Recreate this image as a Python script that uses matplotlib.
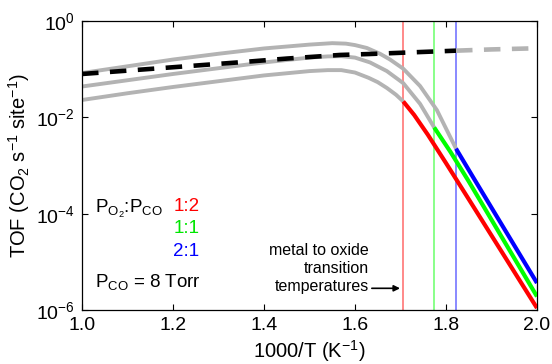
import matplotlib.pyplot as plt
import numpy as np

plt.rcParams['font.family'] = ['Liberation Sans', 'DejaVu Sans']
plt.rcParams['mathtext.fontset'] = 'custom'
plt.rcParams['mathtext.rm'] = 'Liberation Sans'
plt.rcParams['mathtext.it'] = 'Liberation Sans:italic'
plt.rcParams['mathtext.default'] = 'regular'

# x = 1000/T, values are log10(TOF)
# metal branch (grey) for each P_O2:P_CO ratio
x_grey_12 = [1.0, 1.1, 1.2, 1.3, 1.4, 1.5, 1.54, 1.57, 1.60, 1.63, 1.65, 1.67, 1.69, 1.706]
y_grey_12 = [-1.64, -1.50, -1.37, -1.25, -1.13, -1.04, -1.02, -1.02, -1.07, -1.18, -1.27, -1.39, -1.53, -1.67]
x_grey_11 = [1.0, 1.1, 1.2, 1.3, 1.4, 1.5, 1.54, 1.57, 1.60, 1.633, 1.67, 1.706, 1.743, 1.774]
y_grey_11 = [-1.36, -1.23, -1.10, -0.98, -0.86, -0.76, -0.735, -0.73, -0.76, -0.86, -1.04, -1.29, -1.72, -2.21]
x_grey_21 = [1.0, 1.1, 1.2, 1.3, 1.4, 1.45, 1.5, 1.55, 1.58, 1.60, 1.626, 1.655, 1.677, 1.706, 1.743, 1.78, 1.822]
y_grey_21 = [-1.08, -0.94, -0.80, -0.68, -0.57, -0.53, -0.49, -0.46, -0.47, -0.50, -0.56, -0.68, -0.80, -0.99, -1.35, -1.85, -2.65]

# oxide branch (coloured)
x_red = [1.706, 1.73, 1.76, 1.80, 1.85, 2.0]
y_red = [-1.67, -1.95, -2.36, -2.95, -3.70, -5.96]
x_green = [1.774, 1.81, 1.85, 2.0]
y_green = [-2.21, -2.72, -3.33, -5.72]
x_blue = [1.822, 1.86, 2.0]
y_blue = [-2.65, -3.25, -5.44]

# dashed reference line
x_dash = [1.0, 1.1, 1.2, 1.347, 1.45, 1.567, 1.633, 1.70, 1.822]
y_dash = [-1.10, -1.03, -0.96, -0.857, -0.78, -0.705, -0.685, -0.66, -0.616]
x_dash_grey = [1.822, 1.90, 2.0]
y_dash_grey = [-0.616, -0.59, -0.566]

# metal to oxide transition temperatures
x_trans = [1.706, 1.774, 1.822]
trans_colors = ['#ff8080', '#80ff80', '#8080ff']

ratios = ['1:2', '1:1', '2:1']
ratio_colors = ['#ff0000', '#00e600', '#0000ff']

fig = plt.figure(figsize=(5.52, 3.64), dpi=100)
ax = fig.add_axes([0.1486, 0.1484, 0.8242, 0.7939])

for xt, c in zip(x_trans, trans_colors):
    ax.axvline(xt, color=c, lw=1.3, zorder=1)

grey = '#b3b3b3'
for xs, ys in [(x_grey_12, y_grey_12), (x_grey_11, y_grey_11), (x_grey_21, y_grey_21)]:
    ax.plot(xs, 10 ** np.array(ys), color=grey, lw=2.8, zorder=2,
            solid_capstyle='butt', solid_joinstyle='round')

ax.plot(x_red, 10 ** np.array(y_red), color='#ff0000', lw=3, zorder=3, solid_capstyle='butt')
ax.plot(x_green, 10 ** np.array(y_green), color='#00ff00', lw=3, zorder=3, solid_capstyle='butt')
ax.plot(x_blue, 10 ** np.array(y_blue), color='#0000ff', lw=3, zorder=3, solid_capstyle='butt')

ax.plot(x_dash, 10 ** np.array(y_dash), color='black', lw=3.3, zorder=4,
        dashes=(3.6, 2.5), dash_capstyle='butt')
ax.plot(x_dash_grey, 10 ** np.array(y_dash_grey), color=grey, lw=3.3, zorder=4,
        dashes=(3.6, 2.5), dash_capstyle='butt')

ax.set_yscale('log')
ax.set_xlim(1.0, 2.0)
ax.set_ylim(1e-6, 1)
ax.set_xticks([1.0, 1.2, 1.4, 1.6, 1.8, 2.0])
ax.set_xticklabels(['1.0', '1.2', '1.4', '1.6', '1.8', '2.0'])
ax.set_yticks([1e-6, 1e-4, 1e-2, 1])
ax.set_yticklabels(['$10^{-6}$', '$10^{-4}$', '$10^{-2}$', '$10^{0}$'])
ax.minorticks_off()
ax.tick_params(direction='in', length=4, width=0.8, top=True, right=True,
               labelsize=14, pad=5)
for s in ax.spines.values():
    s.set_linewidth(0.9)

ax.set_xlabel('1000/T (K$^{-1}$)', fontsize=14.5, labelpad=3)
ax.set_ylabel('TOF (CO$_2$ s$^{-1}$ site$^{-1}$)', fontsize=14.5, labelpad=3)

ax.text(0.028, 0.335, r'P$_{O_2}$:P$_{CO}$', transform=ax.transAxes,
        fontsize=13.5, va='baseline')
for i, (r, c) in enumerate(zip(ratios, ratio_colors)):
    ax.text(0.258, 0.343 - i * 0.078, r, color=c, transform=ax.transAxes,
            fontsize=13.5, ha='right', va='baseline')
ax.text(0.028, 0.078, 'P$_{CO}$ = 8 Torr', transform=ax.transAxes,
        fontsize=13.5, va='baseline')

ax.text(0.63, 0.055, 'metal to oxide\ntransition\ntemperatures', transform=ax.transAxes,
        fontsize=11.5, ha='right', va='bottom', linespacing=1.25)
ax.annotate('', xy=(1.699, 10 ** -5.55), xytext=(1.637, 10 ** -5.55),
            arrowprops=dict(arrowstyle='-|>', color='black', lw=1.2,
                            mutation_scale=9, shrinkA=0, shrinkB=0))

fig.savefig('out.png', dpi=100)
